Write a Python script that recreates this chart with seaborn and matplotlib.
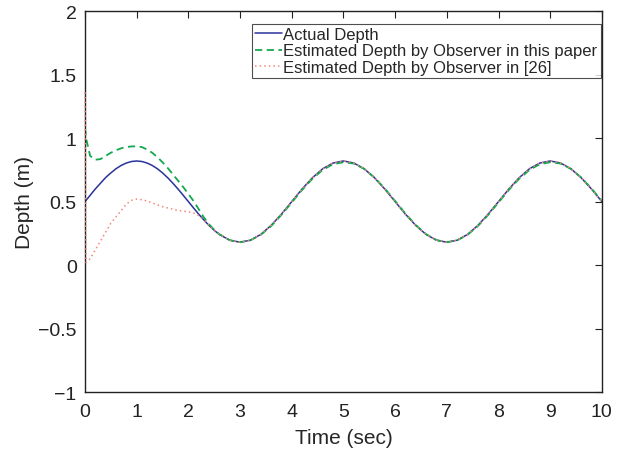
import numpy as np
import pandas as pd
import seaborn as sns
import matplotlib
matplotlib.use('Agg')
import matplotlib.pyplot as plt

# time axis (sec), finer at the start where the observers settle
time = [0, 0.02, 0.1, 0.2, 0.3, 0.4, 0.5, 0.6, 0.7, 0.8, 0.9,
        1.0, 1.1, 1.2, 1.3, 1.4, 1.5, 1.6, 1.7, 1.8, 1.9,
        2.0, 2.1, 2.2, 2.3, 2.4, 2.5, 2.6, 2.8,
        3.0, 3.2, 3.4, 3.6, 3.8, 4.0, 4.2, 4.4, 4.6, 4.8,
        5.0, 5.2, 5.4, 5.6, 5.8, 6.0, 6.2, 6.4, 6.6, 6.8,
        7.0, 7.2, 7.4, 7.6, 7.8, 8.0, 8.2, 8.4, 8.6, 8.8,
        9.0, 9.2, 9.4, 9.6, 9.8, 10.0]

actual_depth = [0.50, 0.51, 0.55, 0.60, 0.645, 0.69, 0.726, 0.759, 0.785, 0.804, 0.816,
                0.82, 0.816, 0.804, 0.785, 0.759, 0.726, 0.688, 0.645, 0.599, 0.55,
                0.50, 0.45, 0.401, 0.355, 0.312, 0.274, 0.241, 0.196,
                0.18, 0.196, 0.241, 0.312, 0.401, 0.50, 0.599, 0.688, 0.759, 0.804,
                0.82, 0.804, 0.759, 0.688, 0.599, 0.50, 0.401, 0.312, 0.241, 0.196,
                0.18, 0.196, 0.241, 0.312, 0.401, 0.50, 0.599, 0.688, 0.759, 0.804,
                0.82, 0.804, 0.759, 0.688, 0.599, 0.50]

est_this_paper = [1.08, 1.00, 0.86, 0.83, 0.835, 0.86, 0.885, 0.905, 0.92, 0.93, 0.935,
                  0.935, 0.93, 0.91, 0.885, 0.85, 0.81, 0.765, 0.715, 0.665, 0.615,
                  0.56, 0.505, 0.44, 0.375, 0.322, 0.278, 0.243, 0.196,
                  0.18, 0.195, 0.238, 0.307, 0.395, 0.493, 0.592, 0.68, 0.75, 0.795,
                  0.81, 0.80, 0.758, 0.69, 0.603, 0.505, 0.405, 0.315, 0.243, 0.197,
                  0.18, 0.195, 0.238, 0.307, 0.395, 0.493, 0.592, 0.68, 0.75, 0.795,
                  0.81, 0.80, 0.758, 0.69, 0.603, 0.505]

est_ref26 = [1.36, 0.02, 0.05, 0.12, 0.19, 0.26, 0.33, 0.38, 0.43, 0.48, 0.51,
             0.52, 0.515, 0.505, 0.49, 0.475, 0.46, 0.45, 0.44, 0.43, 0.425,
             0.42, 0.41, 0.39, 0.355, 0.312, 0.274, 0.241, 0.196,
             0.18, 0.196, 0.241, 0.312, 0.401, 0.50, 0.599, 0.688, 0.759, 0.804,
             0.82, 0.804, 0.759, 0.688, 0.599, 0.50, 0.401, 0.312, 0.241, 0.196,
             0.18, 0.196, 0.241, 0.312, 0.401, 0.50, 0.599, 0.688, 0.759, 0.804,
             0.82, 0.804, 0.759, 0.688, 0.599, 0.50]

sns.set_style('white')
plt.rcParams['font.family'] = ['Liberation Sans', 'DejaVu Sans']

fig = plt.figure(figsize=(6.25, 4.52), dpi=100)
ax = fig.add_axes([0.136, 0.1305, 0.827, 0.8425])

sns.lineplot(x=time, y=actual_depth, ax=ax, color='#28339a', lw=1.1,
             estimator=None, sort=False, label='Actual Depth')
sns.lineplot(x=time, y=est_this_paper, ax=ax, color='#14a84e', lw=1.3,
             estimator=None, sort=False, linestyle=(0, (4, 2.5)),
             label='Estimated Depth by Observer in this paper')
# on top of the spine so the start spike at t=0 stays visible
sns.lineplot(x=time, y=est_ref26, ax=ax, color='#f28a78', lw=1.1,
             estimator=None, sort=False, linestyle=(0, (1, 2)), zorder=3,
             clip_on=False, label='Estimated Depth by Observer in [26]')

ax.set_xlim(0, 10)
ax.set_ylim(-1, 2)
ax.set_xticks(range(0, 11))
ax.set_yticks([-1, -0.5, 0, 0.5, 1, 1.5, 2])
ax.set_yticklabels(['\u22121', '\u22120.5', '0', '0.5', '1', '1.5', '2'])
ax.tick_params(direction='in', length=5, width=0.8, top=True, right=True,
               labelsize=14, colors='#222222')
ax.tick_params(axis='x', pad=8)
ax.tick_params(axis='y', pad=6)
for s in ax.spines.values():
    s.set_color('#222222')
    s.set_linewidth(1.0)

ax.set_xlabel('Time (sec)', fontsize=15, labelpad=6)
ax.set_ylabel('Depth (m)', fontsize=15, labelpad=3)

leg = ax.legend(loc='upper right', bbox_to_anchor=(0.998, 0.967), fontsize=12,
                frameon=True, fancybox=False, handlelength=1.6, handletextpad=0.1,
                borderpad=0.2, labelspacing=0.08, borderaxespad=0)
leg.get_frame().set_edgecolor('#222222')
leg.get_frame().set_linewidth(0.8)

fig.savefig('out.png', dpi=100)
